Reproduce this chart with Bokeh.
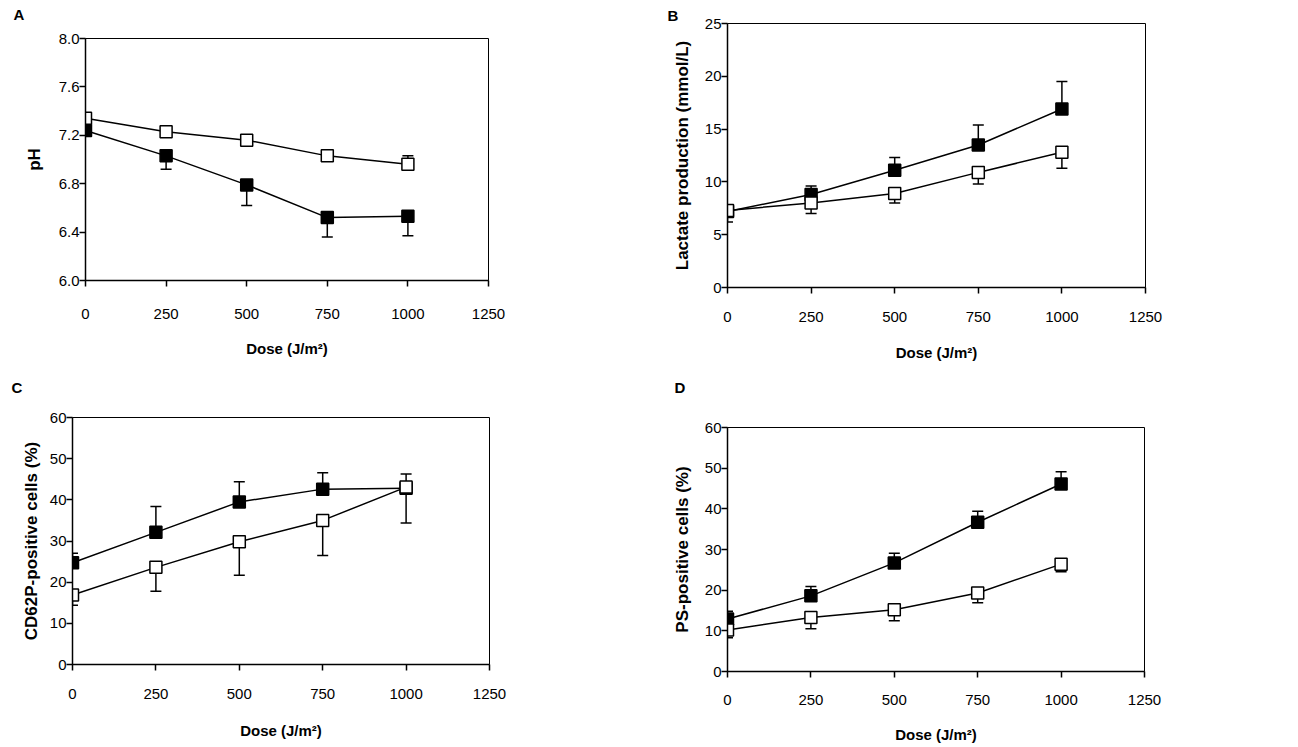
from bokeh.plotting import figure
from bokeh.layouts import column, row
from bokeh.models import ColumnDataSource, Whisker, TeeHead, Title, FixedTicker, NumeralTickFormatter, Range1d
from bokeh.embed import file_html
from bokeh.resources import INLINE

# ---------------- data ----------------
dose = [0, 250, 500, 750, 1000]
x_ticks = [0, 250, 500, 750, 1000, 1250]

# Panel A: pH
ph_open = [7.34, 7.23, 7.16, 7.03, 6.96]
ph_open_lo = [7.34, 7.23, 7.16, 7.03, 6.96]
ph_open_hi = [7.34, 7.23, 7.16, 7.03, 7.03]
ph_filled = [7.24, 7.03, 6.79, 6.52, 6.53]
ph_filled_lo = [7.24, 6.92, 6.62, 6.36, 6.37]
ph_filled_hi = [7.24, 7.03, 6.79, 6.52, 6.53]
ph_ticks = [6.0, 6.4, 6.8, 7.2, 7.6, 8.0]

# Panel B: lactate production (mmol/L)
lac_open = [7.3, 8.0, 8.9, 10.9, 12.8]
lac_open_lo = [6.2, 7.0, 8.0, 9.8, 11.3]
lac_open_hi = [7.3, 8.0, 8.9, 10.9, 12.8]
lac_filled = [7.2, 8.8, 11.1, 13.5, 16.9]
lac_filled_lo = [7.2, 8.8, 11.1, 13.5, 16.9]
lac_filled_hi = [7.2, 9.6, 12.3, 15.4, 19.5]
lac_ticks = [0, 5, 10, 15, 20, 25]

# Panel C: CD62P-positive cells (%)
cd_open = [16.9, 23.6, 29.8, 35.0, 43.1]
cd_open_lo = [14.4, 17.8, 21.7, 26.5, 34.4]
cd_open_hi = [16.9, 23.6, 29.8, 35.0, 43.1]
cd_filled = [24.7, 32.1, 39.5, 42.6, 42.8]
cd_filled_lo = [24.7, 32.1, 39.5, 42.6, 42.8]
cd_filled_hi = [27.0, 38.4, 44.4, 46.6, 46.3]
pct_ticks = [0, 10, 20, 30, 40, 50, 60]

# Panel D: PS-positive cells (%)
ps_open = [10.2, 13.3, 15.2, 19.3, 26.4]
ps_open_lo = [8.3, 10.5, 12.5, 16.9, 24.5]
ps_open_hi = [10.2, 13.3, 15.2, 19.3, 26.4]
ps_filled = [12.9, 18.6, 26.7, 36.7, 46.1]
ps_filled_lo = [12.9, 18.6, 26.7, 36.7, 46.1]
ps_filled_hi = [14.8, 20.9, 29.1, 39.4, 49.1]

FONT = "Liberation Sans"


def make_panel(letter, ylabel, yrange, yticks, yfmt, series, frame_w, frame_h,
               b_left, b_right, b_top, b_bottom, ytitle_standoff, xlabel_standoff,
               xtitle_standoff, letter_offset, letter_gap):
    p = figure(title=None, output_backend="svg", toolbar_location=None,
               frame_width=frame_w, frame_height=frame_h,
               width=frame_w + b_left + b_right, height=frame_h + b_top + b_bottom,
               min_border_left=b_left, min_border_right=b_right,
               min_border_top=b_top, min_border_bottom=b_bottom,
               x_range=Range1d(0, 1250), y_range=Range1d(*yrange))
    p.background_fill_color = "white"
    p.border_fill_color = "white"
    p.outline_line_color = "black"
    p.outline_line_width = 1
    p.xgrid.visible = False
    p.ygrid.visible = False

    p.xaxis.ticker = FixedTicker(ticks=x_ticks)
    p.yaxis.ticker = FixedTicker(ticks=yticks)
    p.yaxis.formatter = NumeralTickFormatter(format=yfmt)
    for ax in (p.xaxis, p.yaxis):
        ax.axis_line_width = 1.5
        ax.axis_line_color = "black"
        ax.major_tick_line_width = 1.5
        ax.major_tick_line_color = "black"
        ax.major_tick_in = 0
        ax.major_tick_out = 6
        ax.minor_tick_line_color = None
        ax.major_label_text_font = FONT
        ax.major_label_text_font_size = "15px"
        ax.major_label_text_color = "black"
        ax.axis_label_text_font = FONT
        ax.axis_label_text_font_style = "bold"
        ax.axis_label_text_color = "black"
    p.xaxis.major_label_standoff = xlabel_standoff
    p.xaxis.axis_label = "Dose (J/m²)"
    p.xaxis.axis_label_text_font_size = "15px"
    p.xaxis.axis_label_standoff = xtitle_standoff
    p.yaxis.major_label_standoff = 0
    p.yaxis.axis_label = ylabel
    p.yaxis.axis_label_text_font_size = "17px"
    p.yaxis.axis_label_standoff = ytitle_standoff

    for vals, lo, hi, fill in series:
        src = ColumnDataSource(dict(x=dose, y=vals, lo=lo, hi=hi))
        w = Whisker(source=src, base="x", lower="lo", upper="hi",
                    line_color="black", line_width=1.5,
                    upper_head=TeeHead(size=11, line_color="black", line_width=1.5),
                    lower_head=TeeHead(size=11, line_color="black", line_width=1.5))
        p.add_layout(w)
        p.line("x", "y", source=src, line_color="black", line_width=1.5)
        p.scatter("x", "y", source=src, marker="square", size=12,
                  fill_color=fill, line_color="black", line_width=1.5)

    # panel letter (with an invisible spacer title between it and the frame)
    if letter_gap is not None:
        p.add_layout(Title(text=" ", standoff=letter_gap, text_font=FONT,
                           text_font_size="15px"), "above")
    p.add_layout(Title(text=letter, align="left", offset=letter_offset, standoff=0,
                       text_font=FONT, text_font_style="bold", text_font_size="15px",
                       text_color="black"), "above")
    return p


pA = make_panel("A", "pH", (6.0, 8.0), ph_ticks, "0.0",
                [(ph_filled, ph_filled_lo, ph_filled_hi, "black"),
                 (ph_open, ph_open_lo, ph_open_hi, "white")],
                403, 242, 85, 167, 38, 85, 12, 22, 18, -72, -3)
pB = make_panel("B", "Lactate production (mmol/L)", (0, 25), lac_ticks, "0",
                [(lac_filled, lac_filled_lo, lac_filled_hi, "black"),
                 (lac_open, lac_open_lo, lac_open_hi, "white")],
                418, 264, 72, 151, 23, 78, 10, 18, 19, -60, None)
pC = make_panel("C", "CD62P-positive cells (%)", (0, 60), pct_ticks, "0",
                [(cd_filled, cd_filled_lo, cd_filled_hi, "black"),
                 (cd_open, cd_open_lo, cd_open_hi, "white")],
                417, 247, 72, 166, 52, 81, 6, 18, 20, -61, 3)
pD = make_panel("D", "PS-positive cells (%)", (0, 60), pct_ticks, "0",
                [(ps_filled, ps_filled_lo, ps_filled_hi, "black"),
                 (ps_open, ps_open_lo, ps_open_hi, "white")],
                417, 244, 72, 152, 62, 74, 10, 17, 18, -53, 13)

layout = column(row(column(pA), column(pB), spacing=0),
                row(column(pC), column(pD), spacing=0), spacing=0)

with open("out.html", "w") as f:
    f.write(file_html(layout, INLINE))
